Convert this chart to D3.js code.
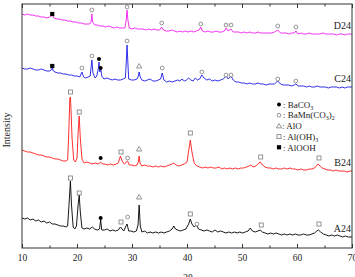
<!DOCTYPE html>
<html><head><meta charset="utf-8">
<script src="https://cdn.jsdelivr.net/npm/d3@7"></script>
<style>html,body{margin:0;padding:0;background:#fff;}svg{display:block;}</style>
</head><body>
<script>
// ---- data (2θ, intensity in arbitrary units, stacked offsets included) ----
const seriesNames = ["A24", "B24", "C24", "D24"];
const seriesColors = ["#000000", "#ff1a1a", "#1a1ae6", "#f01cf0"];
const xTicks = [10, 20, 30, 40, 50, 60, 70];

const a24 = [[10,30],[10.5,29],[11,30],[11.5,28],[12,29],[12.5,27],[13,28],[13.5,26],[14,27],[14.5,25],[15,26],[15.5,24],[16,24],[16.5,23],[17,22],[17.5,22],[18,21],[18.3,22],[18.6,48],[18.8,67],[19.0,43],[19.3,21],[19.6,19],[19.9,22],[20.2,43],[20.4,53],[20.6,36],[20.9,20],[21.3,19],[21.8,20],[22.3,19],[22.8,21],[23.2,19],[23.7,18],[24.1,19],[24.3,28],[24.5,18],[25,18],[25.5,19],[26,17],[26.5,18],[27,17],[27.5,18],[27.9,21],[28.2,19],[28.5,17],[28.9,22],[29.1,24],[29.4,17],[29.8,17],[30.3,16],[30.8,17],[31.1,23],[31.3,43],[31.5,22],[31.8,16],[32.3,17],[32.8,15],[33.3,16],[33.8,15],[34.3,16],[34.8,15],[35.3,16],[35.8,15],[36.3,16],[36.8,17],[37.3,19],[37.6,22],[37.9,19],[38.3,18],[38.8,17],[39.3,18],[39.8,19],[40.3,24],[40.6,29],[40.9,24],[41.3,21],[41.7,23],[42.1,19],[42.6,18],[43.1,17],[43.6,18],[44.1,17],[44.6,16],[45.1,18],[45.6,16],[46.1,17],[46.6,16],[47.1,15],[47.6,16],[48.1,15],[48.6,16],[49.1,15],[49.6,16],[50.1,15],[50.6,16],[51.1,17],[51.5,20],[51.9,17],[52.4,16],[52.9,17],[53.3,18],[53.7,16],[54.2,15],[54.7,14],[55.2,15],[55.7,14],[56.2,15],[56.7,14],[57.2,13],[57.7,14],[58.2,13],[58.7,14],[59.2,13],[59.7,14],[60.2,13],[60.7,13],[61.2,14],[61.7,13],[62.2,13],[62.7,14],[63.2,15],[63.6,17],[63.9,18],[64.3,16],[64.8,14],[65.3,13],[65.8,12],[66.3,13],[66.8,12],[67.3,13],[67.8,12],[68.3,11],[68.8,12],[69.3,11],[70,11]];

const b24 = [[10,98],[10.5,97],[11,96],[11.5,96],[12,95],[12.5,94],[13,93],[13.5,93],[14,92],[14.5,91],[15,91],[15.5,90],[16,89],[16.5,89],[17,88],[17.5,87],[18,87],[18.3,88],[18.5,115],[18.7,150],[18.8,151],[18.9,140],[19.1,110],[19.4,88],[19.7,86],[20.0,90],[20.2,115],[20.4,132],[20.6,110],[20.9,89],[21.3,85],[21.8,86],[22.3,85],[22.8,84],[23.3,85],[23.8,84],[24.1,85],[24.3,86],[24.6,84],[25.1,84],[25.6,83],[26.1,84],[26.6,83],[27.1,84],[27.5,85],[27.9,92],[28.2,87],[28.6,84],[29.0,86],[29.2,87],[29.5,83],[30,83],[30.5,82],[30.9,83],[31.15,86],[31.3,92],[31.45,85],[31.8,82],[32.3,83],[32.8,82],[33.3,82],[33.8,81],[34.3,82],[34.8,81],[35.3,82],[35.8,81],[36.3,82],[36.8,83],[37.3,84],[37.6,85],[38,83],[38.5,82],[39,83],[39.5,84],[40,86],[40.3,97],[40.6,108],[40.9,96],[41.3,85],[41.8,82],[42.3,81],[42.8,80],[43.3,81],[43.8,80],[44.3,81],[44.8,80],[45.3,80],[45.8,81],[46.3,79],[46.8,80],[47.3,79],[47.8,80],[48.3,79],[48.8,80],[49.3,79],[49.8,80],[50.3,80],[50.8,81],[51.3,82],[51.6,83],[52,81],[52.5,82],[52.9,84],[53.3,86],[53.7,83],[54.2,81],[54.7,80],[55.2,80],[55.7,79],[56.2,80],[56.7,79],[57.2,79],[57.7,80],[58.2,79],[58.7,80],[59.2,79],[59.7,79],[60.2,78],[60.7,79],[61.2,78],[61.7,78],[62.2,79],[62.7,79],[63.2,80],[63.5,82],[63.8,84],[64.2,82],[64.6,80],[65.1,79],[65.6,78],[66.1,78],[66.6,77],[67.1,78],[67.6,77],[68.1,77],[68.6,77],[69.1,76],[69.6,77],[70,77]];

const c24 = [[10,180],[10.5,179],[11,179],[11.5,180],[12,179],[12.5,178],[13,178],[13.5,179],[14,178],[14.5,177],[15,177],[15.3,178],[15.5,180],[15.7,177],[16,176],[16.5,175],[17,175],[17.5,174],[18,174],[18.5,173],[19,173],[19.5,172],[20,172],[20.5,171],[20.9,176],[21.2,171],[21.6,170],[22,171],[22.4,172],[22.7,188],[22.9,175],[23.3,170],[23.6,172],[23.9,180],[24.0,186],[24.15,176],[24.3,180],[24.5,172],[24.9,169],[25.4,170],[25.9,169],[26.4,168],[26.9,169],[27.4,168],[27.9,168],[28.4,169],[28.8,170],[28.95,185],[29.1,203],[29.25,185],[29.4,169],[29.9,168],[30.4,168],[30.9,169],[31.1,171],[31.3,176],[31.5,171],[31.8,168],[32.3,167],[32.8,168],[33.3,169],[33.8,167],[34.3,167],[34.8,168],[35.2,169],[35.5,175],[35.8,168],[36.3,166],[36.8,167],[37.3,166],[37.8,167],[38.3,168],[38.7,167],[39.1,169],[39.5,167],[39.9,168],[40.3,170],[40.7,168],[41.1,167],[41.5,170],[41.9,168],[42.3,169],[42.7,173],[43.1,170],[43.6,168],[44.1,169],[44.6,167],[45.1,168],[45.6,167],[46.1,168],[46.6,169],[47.1,172],[47.5,169],[48,172],[48.4,168],[48.9,166],[49.4,166],[49.9,165],[50.4,165],[50.9,164],[51.4,165],[51.9,164],[52.4,164],[52.9,165],[53.4,164],[53.9,164],[54.4,163],[54.9,164],[55.4,164],[55.9,164],[56.5,167],[57,164],[57.5,163],[58,163],[58.5,163],[59,162],[59.5,163],[59.8,164],[60.2,162],[60.7,162],[61.2,162],[61.7,161],[62.2,162],[62.7,161],[63.2,161],[63.7,162],[64.2,161],[64.7,161],[65.2,161],[65.7,160],[66.2,161],[66.7,161],[67.2,161],[67.7,160],[68.2,161],[68.7,160],[69.2,161],[70,161]];

const d24 = [[10,234],[10.5,233],[11,234],[11.5,233],[12,233],[12.5,232],[13,232],[13.5,231],[14,231],[14.5,230],[15,231],[15.5,233],[15.8,230],[16.3,229],[16.8,229],[17.3,228],[17.8,228],[18.3,227],[18.8,227],[19.3,226],[19.8,226],[20.3,225],[20.8,225],[21.3,224],[21.8,224],[22.3,224],[22.55,226],[22.7,234],[22.85,226],[23.2,223],[23.7,223],[24.2,222],[24.7,222],[25.2,221],[25.7,222],[26.2,221],[26.7,220],[27.2,221],[27.7,220],[28.2,220],[28.7,220],[28.95,228],[29.1,238],[29.25,228],[29.5,220],[30,219],[30.5,220],[31,219],[31.5,219],[32,219],[32.5,218],[33,219],[33.5,218],[34,219],[34.5,218],[35,218],[35.4,221],[35.7,218],[36.2,217],[36.7,217],[37.2,218],[37.7,217],[38.2,216],[38.7,217],[39.2,216],[39.7,217],[40.2,216],[40.7,217],[41.2,216],[41.7,217],[42.2,218],[42.5,221],[42.8,217],[43.3,216],[43.8,217],[44.3,216],[44.8,216],[45.3,217],[45.8,216],[46.3,216],[46.8,217],[47.1,220],[47.5,217],[48,219],[48.4,216],[48.9,216],[49.4,216],[49.9,215],[50.4,216],[50.9,215],[51.4,216],[51.9,215],[52.4,215],[52.9,216],[53.4,215],[53.9,215],[54.4,215],[54.9,215],[55.4,215],[55.9,216],[56.5,218],[57,215],[57.5,215],[58,215],[58.5,214],[59,215],[59.5,215],[59.8,217],[60.2,214],[60.7,215],[61.2,214],[61.7,214],[62.2,215],[62.7,214],[63.2,214],[63.7,214],[64.2,214],[64.7,215],[65.2,214],[65.7,214],[66.2,214],[66.7,214],[67.2,213],[67.7,214],[68.2,214],[68.7,213],[69.2,214],[70,214]];

// phase markers: [2θ, intensity, type]  types: bc=BaCO3(●) bm=BaMn(CO3)2(○) alo=AlO(△) aoh=Al(OH)3(□) aooh=AlOOH(■)
const markers = [
  [15.5,234,"aooh"],[22.7,238,"bm"],[29.1,241,"bm"],[35.4,225,"bm"],[42.5,224,"bm"],[47.1,223,"bm"],[48.0,223,"bm"],[56.5,222,"bm"],[59.8,221,"bm"],
  [15.5,182,"aooh"],[20.9,180,"bm"],[22.7,192,"bm"],[24.0,189,"bc"],[24.3,180,"bc"],[29.1,207,"bm"],[31.3,182,"alo"],[35.5,180,"bm"],[42.7,176,"bm"],[47.1,173,"bm"],[48.0,173,"bm"],[56.5,169,"bm"],[59.8,167,"bm"],
  [18.8,156,"aoh"],[20.4,136,"aoh"],[24.3,90,"bc"],[28.0,96,"aoh"],[29.2,90,"bm"],[31.3,99,"alo"],[40.6,115,"aoh"],[53.4,91,"aoh"],[64.0,90,"aoh"],
  [18.8,70,"aoh"],[20.4,55,"aoh"],[24.3,30,"bc"],[28.0,26,"aoh"],[29.2,31,"bm"],[31.3,51,"alo"],[40.6,34,"aoh"],[41.8,24,"bm"],[53.5,23,"aoh"],[64.0,24,"aoh"]
];

const legendTypes = ["bc", "bm", "alo", "aoh", "aooh"];
const legendLabels = [
  [["BaCO",""],["3","sub"]],
  [["BaMn(CO",""],["3","sub"],[")",""],["2","sub"]],
  [["AlO",""]],
  [["Al(OH)",""],["3","sub"]],
  [["AlOOH",""]]
];

// ---- drawing ----
const W = 355, H = 277;
const m = {l: 22, r: 3, t: 4, b: 29};
const font = "'Liberation Serif','Times New Roman',serif";
const svg = d3.select("body").append("svg").attr("width", W).attr("height", H);

const x = d3.scaleLinear().domain([10, 70]).range([m.l, W - m.r]);
const y = d3.scaleLinear().domain([0, 244]).range([H - m.b, m.t]);

const allSeries = [a24, b24, c24, d24];
const line = d3.line().x(d => x(d[0])).y(d => y(d[1]));

const plot = svg.append("g");
allSeries.forEach((s, i) => {
  plot.append("path").datum(s).attr("d", line)
    .attr("fill", "none").attr("stroke", seriesColors[i]).attr("stroke-width", 0.9)
    .attr("stroke-linejoin", "round");
  plot.append("text").attr("x", x(69.8)).attr("y", y(s[s.length - 1][1]) - 5)
    .attr("text-anchor", "end").attr("font-family", font).attr("font-size", 10)
    .attr("fill", "#222").text(seriesNames[i]);
});

function drawSym(g, type, cx, cy) {
  const grey = "#7a7a7a";
  if (type === "bc") g.append("circle").attr("cx", cx).attr("cy", cy).attr("r", 2).attr("fill", "#000");
  else if (type === "bm") g.append("circle").attr("cx", cx).attr("cy", cy).attr("r", 1.9).attr("fill", "#fff").attr("stroke", grey).attr("stroke-width", 0.8);
  else if (type === "alo") g.append("path").attr("d", `M${cx-2.6},${cy+2} L${cx+2.6},${cy+2} L${cx},${cy-2.4} Z`).attr("fill", "#fff").attr("stroke", grey).attr("stroke-width", 0.8);
  else if (type === "aoh") g.append("rect").attr("x", cx-2).attr("y", cy-2).attr("width", 4).attr("height", 4).attr("fill", "#fff").attr("stroke", grey).attr("stroke-width", 0.8);
  else if (type === "aooh") g.append("rect").attr("x", cx-2.1).attr("y", cy-2.1).attr("width", 4.2).attr("height", 4.2).attr("fill", "#000");
}

const mk = svg.append("g");
markers.forEach(d => drawSym(mk, d[2], x(d[0]), y(d[1])));

// frame + axes
svg.append("rect").attr("x", m.l).attr("y", m.t).attr("width", W - m.r - m.l).attr("height", H - m.b - m.t)
  .attr("fill", "none").attr("stroke", "#333").attr("stroke-width", 1);

const minorTicks = d3.range(10, 71, 5);
const bottom = svg.append("g").attr("transform", `translate(0,${H - m.b})`)
  .call(d3.axisBottom(x).tickValues(xTicks).tickSize(-4).tickPadding(6).tickFormat(d3.format("d")));
bottom.select(".domain").remove();
bottom.selectAll("line").attr("stroke", "#333");
bottom.selectAll("text").attr("font-family", font).attr("font-size", 9.5).attr("fill", "#222");
svg.append("g").attr("transform", `translate(0,${H - m.b})`)
  .call(d3.axisBottom(x).tickValues(minorTicks.filter(v => v % 10)).tickSize(-2.5).tickFormat(""))
  .call(g => g.select(".domain").remove()).selectAll("line").attr("stroke", "#333");
svg.append("g").attr("transform", `translate(0,${m.t})`)
  .call(d3.axisTop(x).tickValues(xTicks).tickSize(-4).tickFormat(""))
  .call(g => g.select(".domain").remove()).selectAll("line").attr("stroke", "#333");
svg.append("g").attr("transform", `translate(0,${m.t})`)
  .call(d3.axisTop(x).tickValues(minorTicks.filter(v => v % 10)).tickSize(-2.5).tickFormat(""))
  .call(g => g.select(".domain").remove()).selectAll("line").attr("stroke", "#333");

// axis titles
svg.append("text").attr("transform", `translate(10,${(m.t + H - m.b) / 2 + 4}) rotate(-90)`)
  .attr("text-anchor", "middle").attr("font-family", font).attr("font-size", 10).attr("fill", "#222").text("Intensity");
svg.append("text").attr("x", (m.l + W - m.r) / 2 + 1).attr("y", H + 4)
  .attr("text-anchor", "middle").attr("font-family", font).attr("font-size", 10).attr("fill", "#222").text("2θ");

// legend
const lg = svg.append("g");
legendTypes.forEach((t, i) => {
  const ly = 104.5 + i * 10.7;
  drawSym(lg, t, 279, ly);
  const tx = lg.append("text").attr("x", t === "alo" ? 282 : 283).attr("y", ly + 3.2)
    .attr("font-family", font).attr("font-size", 9).attr("fill", "#222");
  tx.append("tspan").text(": ");
  legendLabels[i].forEach(p => {
    const ts = tx.append("tspan").text(p[0]);
    if (p[1] === "sub") ts.attr("font-size", 6).attr("dy", 2);
    else if (tx.selectAll("tspan").size() > 2) ts.attr("dy", -2);
  });
});
</script>
</body></html>
